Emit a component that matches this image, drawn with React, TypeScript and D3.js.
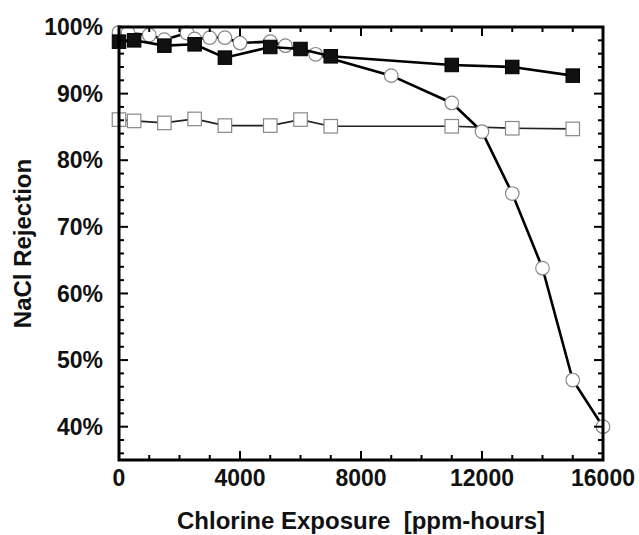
import React from "react";
import * as d3 from "d3";

const filledX = [0, 500, 1500, 2500, 3500, 5000, 6000, 7000, 11000, 13000, 15000];
const filledY = [97.8, 98.0, 97.2, 97.4, 95.4, 97.0, 96.7, 95.6, 94.3, 94.0, 92.7];

const openSqX = [0, 500, 1500, 2500, 3500, 5000, 6000, 7000, 11000, 13000, 15000];
const openSqY = [86.1, 85.9, 85.6, 86.2, 85.2, 85.2, 86.1, 85.1, 85.1, 84.8, 84.7];

const circleX = [0, 300, 1000, 1500, 2250, 2500, 3000, 3500, 4000, 5000, 5500, 6500, 9000, 11000, 12000, 13000, 14000, 15000, 16000];
const circleY = [99.2, 99.1, 98.8, 98.1, 99.1, 98.2, 98.4, 98.4, 97.6, 97.8, 97.2, 95.9, 92.7, 88.6, 84.3, 75.0, 63.8, 47.0, 40.0];

const xTickLabels = [0, 4000, 8000, 12000, 16000];
const yTickLabels = [40, 50, 60, 70, 80, 90, 100];

const W = 639, H = 535;
const L = 119, R = 603, T = 27, B = 460;
const FONT = "'Liberation Sans', Arial, sans-serif";

export default function App() {
  const x = d3.scaleLinear().domain([0, 16000]).range([L, R]);
  const y = d3.scaleLinear().domain([35, 100]).range([B, T]);
  const xMinor = d3.range(0, 16001, 1000);
  const yMinor = d3.range(36, 100, 2);
  const line = d3.line<[number, number]>().x(d => x(d[0])).y(d => y(d[1]));
  const filled = filledX.map((v, i) => [v, filledY[i]] as [number, number]);
  const openSq = openSqX.map((v, i) => [v, openSqY[i]] as [number, number]);
  const circ = circleX.map((v, i) => [v, circleY[i]] as [number, number]);
  const s = 13.5;
  return (
    <svg width={W} height={H} style={{ position: "absolute", left: 0, top: 0, background: "#fff" }}>
      {/* open squares */}
      <path d={line(openSq) || ""} fill="none" stroke="#222" strokeWidth={1.7} />
      {openSq.map((d, i) => (
        <rect key={"os" + i} x={x(d[0]) - s / 2} y={y(d[1]) - s / 2} width={s} height={s} fill="#fff" stroke="#888" strokeWidth={1.2} />
      ))}
      {/* circles */}
      <path d={line(circ) || ""} fill="none" stroke="#000" strokeWidth={2.6} />
      {circ.map((d, i) => (
        <circle key={"c" + i} cx={x(d[0])} cy={y(d[1])} r={6.8} fill="#fff" stroke="#888" strokeWidth={1.2} />
      ))}
      {/* filled squares */}
      <path d={line(filled) || ""} fill="none" stroke="#000" strokeWidth={2.6} />
      {filled.map((d, i) => (
        <rect key={"fs" + i} x={x(d[0]) - s / 2} y={y(d[1]) - s / 2} width={s} height={s} fill="#111" stroke="#000" strokeWidth={1} />
      ))}
      {/* ticks */}
      {xMinor.map(v => {
        const major = v % 4000 === 0;
        const len = major ? 9 : 5;
        return (
          <g key={"xt" + v}>
            <line x1={x(v)} x2={x(v)} y1={B} y2={B - len} stroke="#000" strokeWidth={2} />
            <line x1={x(v)} x2={x(v)} y1={T} y2={T + len} stroke="#000" strokeWidth={2} />
          </g>
        );
      })}
      {yMinor.map(v => {
        const major = v % 10 === 0;
        const len = major ? 9 : 5;
        return (
          <g key={"yt" + v}>
            <line x1={L} x2={L + len} y1={y(v)} y2={y(v)} stroke="#000" strokeWidth={2} />
            <line x1={R} x2={R - len} y1={y(v)} y2={y(v)} stroke="#000" strokeWidth={2} />
          </g>
        );
      })}
      <rect x={L} y={T} width={R - L} height={B - T} fill="none" stroke="#000" strokeWidth={3} />
      {/* labels */}
      {xTickLabels.map(v => (
        <text key={"xl" + v} x={x(v)} y={486} textAnchor="middle" fontFamily={FONT} fontWeight="bold" fontSize={23} fill="#111">{v}</text>
      ))}
      {yTickLabels.map(v => (
        <text key={"yl" + v} x={103} y={y(v)} dy="0.35em" textAnchor="end" fontFamily={FONT} fontWeight="bold" fontSize={23} fill="#111">{v}%</text>
      ))}
      <text x={(L + R) / 2} y={529} textAnchor="middle" fontFamily={FONT} fontWeight="bold" fontSize={24} fill="#111" style={{ whiteSpace: "pre" }}>{"Chlorine Exposure  [ppm-hours]"}</text>
      <text transform={`translate(31,${(T + B) / 2}) rotate(-90)`} textAnchor="middle" fontFamily={FONT} fontWeight="bold" fontSize={24} fill="#111">NaCl Rejection</text>
    </svg>
  );
}
